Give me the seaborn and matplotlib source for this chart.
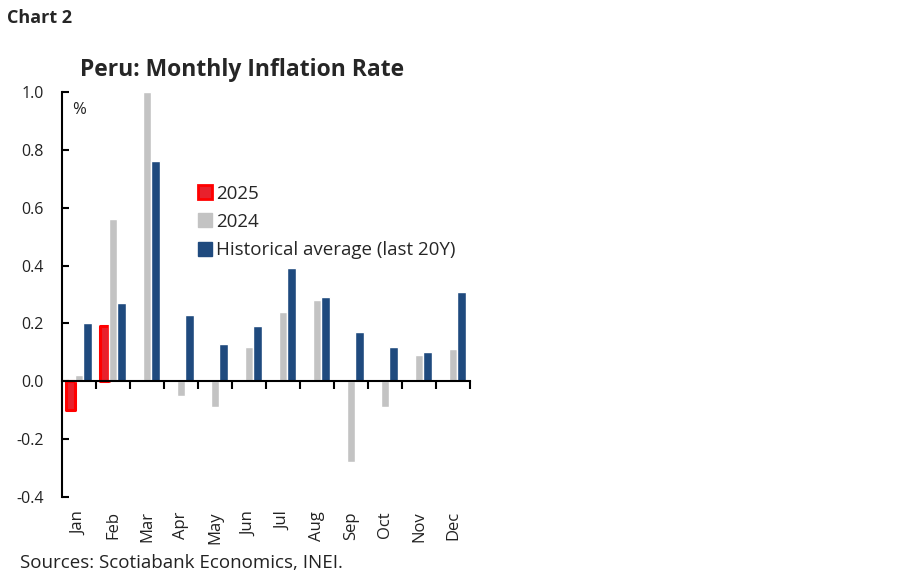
import numpy as np
import pandas as pd
import matplotlib
matplotlib.use("Agg")
import matplotlib.pyplot as plt
from matplotlib.patches import Patch
import seaborn as sns

sns.set_theme(style="white")
plt.rcParams["font.family"] = ["Open Sans", "DejaVu Sans"]

months = ["Jan", "Feb", "Mar", "Apr", "May", "Jun", "Jul", "Aug", "Sep", "Oct", "Nov", "Dec"]
infl_2025 = [-0.10, 0.19, np.nan, np.nan, np.nan, np.nan, np.nan, np.nan, np.nan, np.nan, np.nan, np.nan]
infl_2024 = [0.02, 0.56, 1.00, -0.05, -0.09, 0.12, 0.24, 0.28, -0.28, -0.09, 0.09, 0.11]
infl_hist = [0.20, 0.27, 0.76, 0.23, 0.13, 0.19, 0.39, 0.29, 0.17, 0.12, 0.10, 0.31]
series_names = ["2025", "2024", "Historical average (last 20Y)"]
colors = ["#e8212c", "#c3c3c3", "#1f4a7e"]

# long-form table for seaborn
df = pd.concat([
    pd.DataFrame({"month": months, "value": vals, "series": name})
    for name, vals in zip(series_names, [infl_2025, infl_2024, infl_hist])
], ignore_index=True)

fig = plt.figure(figsize=(9, 5.79), dpi=100)
ax = fig.add_axes([62 / 900, 1 - 497 / 579, 408 / 900, 405 / 579])

sns.barplot(data=df, x="month", y="value", hue="series", hue_order=series_names,
            order=months, palette=colors, width=0.75, dodge=True, ax=ax,
            legend=False, errorbar=None, saturation=1)

# red bars get a brighter rounded outline
for bar in ax.containers[0]:
    bar.set_edgecolor("#ff0000")
    bar.set_linewidth(2.2)
    bar.set_joinstyle("round")

ax.set_xlim(-0.5, 11.5)
ax.set_ylim(-0.4, 1.0)
ax.set_yticks(np.arange(-0.4, 1.01, 0.2))
ax.set_yticklabels([f"{v:.1f}" for v in np.arange(-0.4, 1.01, 0.2)], fontsize=11.5, color="#222222")
ax.tick_params(axis="y", direction="in", length=5, width=1.5, color="black", pad=13, left=True)

# x axis sits on zero, ticks at group boundaries, labels at the bottom
ax.spines["bottom"].set_position(("data", 0))
ax.spines["bottom"].set_linewidth(1.5)
ax.spines["left"].set_linewidth(1.5)
ax.spines["left"].set_color("black")
ax.spines["bottom"].set_color("black")
ax.spines["top"].set_visible(False)
ax.spines["right"].set_visible(False)
ax.set_xticks(np.arange(0.5, 11.6, 1.0))
ax.set_xticklabels([])
ax.tick_params(axis="x", direction="out", length=6, width=1.5, color="black", bottom=True)
for i, m in enumerate(months):
    ax.text(i, -0.035, m, transform=ax.get_xaxis_transform(), rotation=90,
            ha="center", va="top", fontsize=12, color="#222222")
ax.set_xlabel("")
ax.set_ylabel("")
ax.text(0.025, 0.955, "%", transform=ax.transAxes, ha="left", va="center", fontsize=12, color="#222222")

handles = [Patch(facecolor=c, edgecolor=c, label=n) for c, n in zip(colors, series_names)]
handles[0].set_edgecolor("#ff0000")
handles[0].set_linewidth(2)
ax.legend(handles=handles, loc="upper left", bbox_to_anchor=(0.315, 0.79), frameon=False,
          fontsize=13.5, handlelength=0.75, handleheight=0.75, handletextpad=0.2,
          labelspacing=0.55, borderaxespad=0)

fig.text(7 / 900, 1 - 18 / 579, "Chart 2", fontsize=13, fontweight="bold", va="center", ha="left")
fig.text(80 / 900, 1 - 70 / 579, "Peru: Monthly Inflation Rate", fontsize=16.5, fontweight="bold",
         va="center", ha="left")
fig.text(20 / 900, 1 - 563 / 579, "Sources: Scotiabank Economics, INEI.", fontsize=13.5,
         va="center", ha="left", color="#222222")

fig.savefig("out.png", dpi=100)
